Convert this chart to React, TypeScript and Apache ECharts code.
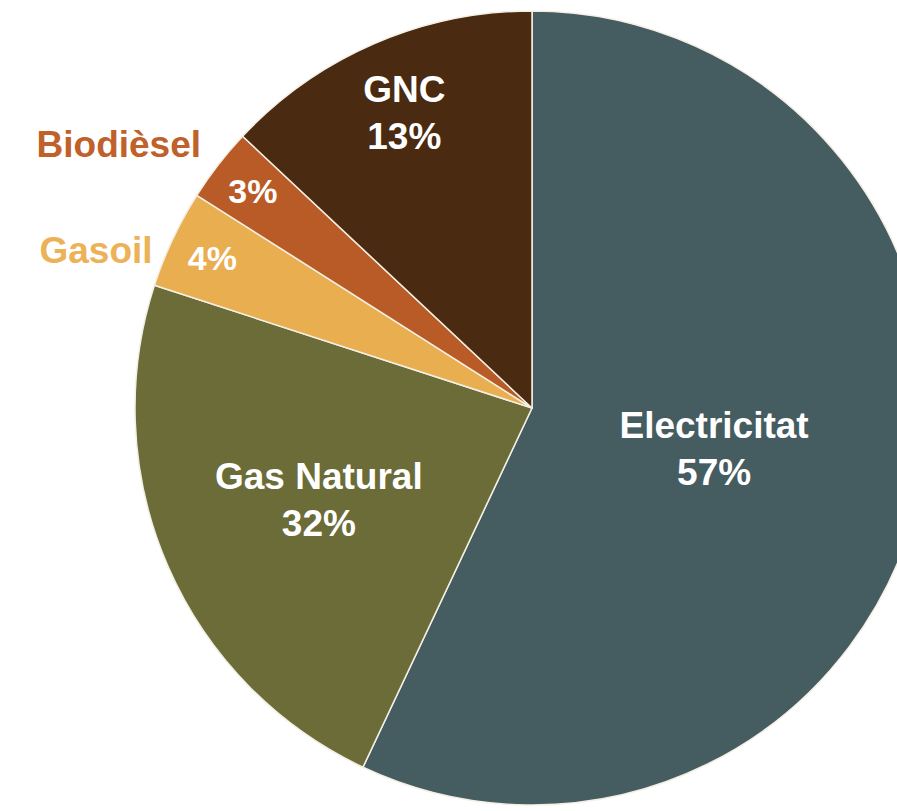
import React, { useEffect, useRef } from "react";
import * as echarts from "echarts";

const categories = ["Electricitat", "Gas Natural", "Gasoil", "Biodièsel", "GNC"];
const values = [57, 23, 4, 3, 13];
const percentLabels = ["57%", "32%", "4%", "3%", "13%"];
const sliceColors = ["#455c61", "#6b6c38", "#e9ae50", "#b95b26", "#4a2a10"];
const outsideNameColors = ["", "", "#ecb257", "#c0602a", ""];
const outsideNames = [false, false, true, true, false];

// label placement (fraction of radius along each slice's mid angle)
const innerLabelRadius = [0.47, 0.585, 0.89, 0.89, 0.81];
const outerLabelRadius = [0, 0, 1.035, 1.065, 0];
const outerLabelAngleShift = [0, 0, -0.046, 0.012, 0];

const CX = 532;
const CY = 408;
const R = 397;

const total = values.reduce((a, b) => a + b, 0);
const midAngles = (() => {
  const out: number[] = [];
  let acc = 0;
  for (const v of values) {
    out.push(((acc + v / 2) / total) * Math.PI * 2);
    acc += v;
  }
  return out;
})();

const font = '"Liberation Sans", Arial, Helvetica, sans-serif';

export default function App() {
  const ref = useRef<HTMLDivElement>(null);
  useEffect(() => {
    if (!ref.current) return;
    const chart = echarts.init(ref.current, null, { renderer: "svg" });
    chart.setOption({
      animation: false,
      backgroundColor: "#ffffff",
      series: [
        {
          type: "pie",
          center: [CX, CY],
          radius: [0, R],
          startAngle: 90,
          clockwise: true,
          avoidLabelOverlap: false,
          silent: true,
          itemStyle: { borderColor: "#f4efe4", borderWidth: 1.5 },
          labelLine: { show: false },
          label: {
            show: true,
            position: "inside",
            color: "#ffffff",
            fontFamily: font,
            fontWeight: "bold",
            fontSize: 37,
            lineHeight: 47,
            align: "center",
            formatter: (p: any) =>
              outsideNames[p.dataIndex]
                ? percentLabels[p.dataIndex]
                : `${categories[p.dataIndex]}\n${percentLabels[p.dataIndex]}`,
          },
          labelLayout: (p: any) => {
            const i = p.dataIndex;
            const a = midAngles[i];
            const rf = innerLabelRadius[i];
            return {
              x: CX + R * rf * Math.sin(a),
              y: CY - R * rf * Math.cos(a),
              align: "center",
              verticalAlign: "middle",
              fontSize: outsideNames[i] ? 34 : 37,
            };
          },
          data: categories.map((name, i) => ({
            name,
            value: values[i],
            itemStyle: { color: sliceColors[i] },
          })),
        },
        {
          type: "pie",
          center: [CX, CY],
          radius: [0, R],
          startAngle: 90,
          clockwise: true,
          avoidLabelOverlap: false,
          silent: true,
          itemStyle: { color: "rgba(0,0,0,0)", borderWidth: 0 },
          labelLine: { show: false },
          label: {
            show: true,
            position: "inside",
            fontFamily: font,
            fontWeight: "bold",
            fontSize: 37,
            formatter: (p: any) => (outsideNames[p.dataIndex] ? categories[p.dataIndex] : ""),
          },
          labelLayout: (p: any) => {
            const i = p.dataIndex;
            const a = midAngles[i] + outerLabelAngleShift[i];
            const rf = outerLabelRadius[i];
            return {
              x: CX + R * rf * Math.sin(a),
              y: CY - R * rf * Math.cos(a),
              align: "right",
              verticalAlign: "middle",
            };
          },
          data: categories.map((name, i) => ({
            name,
            value: values[i],
            label: { show: outsideNames[i], color: outsideNameColors[i] || "#000" },
          })),
        },
      ],
    });
    return () => chart.dispose();
  }, []);
  return (
    <div
      ref={ref}
      style={{ position: "fixed", left: 0, top: 0, width: 897, height: 811 }}
    />
  );
}
